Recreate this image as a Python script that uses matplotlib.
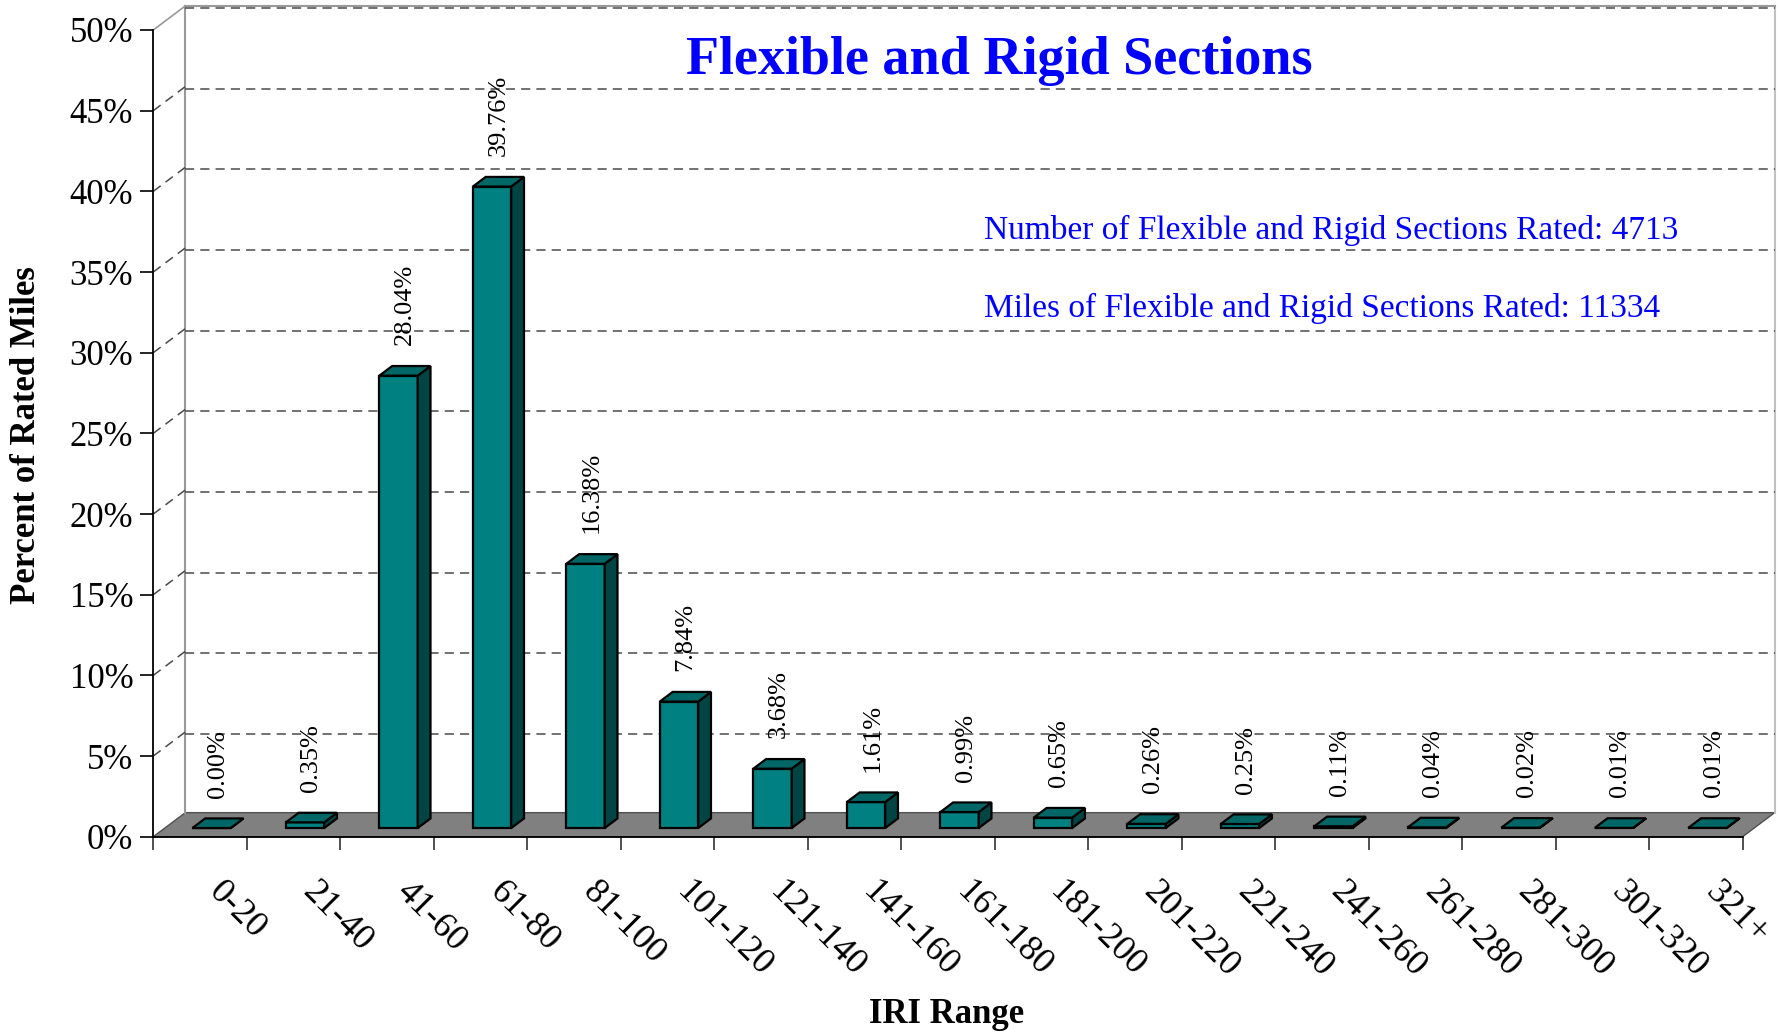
import numpy as np
from matplotlib import pyplot as plt
from matplotlib.patches import Polygon

plt.rcParams['font.family'] = ['Liberation Serif', 'DejaVu Serif']

# IRI ranges and percent of rated miles
categorias = ['0-20', '21-40', '41-60', '61-80', '81-100', '101-120', '121-140',
              '141-160', '161-180', '181-200', '201-220', '221-240', '241-260',
              '261-280', '281-300', '301-320', '321+']
porcentajes = [0.00, 0.35, 28.04, 39.76, 16.38, 7.84, 3.68, 1.61, 0.99, 0.65,
               0.26, 0.25, 0.11, 0.04, 0.02, 0.01, 0.01]
yticks = np.arange(0, 51, 5)

titulo = 'Flexible and Rigid Sections'
nota1 = 'Number of Flexible and Rigid Sections Rated: 4713'
nota2 = 'Miles of Flexible and Rigid Sections Rated: 11334'

# profundidad del "3D" en unidades de datos
DX = 0.342
DY = 1.49
D0, D1 = 0.36, 0.76   # frente y fondo de las barras (fraccion de la profundidad)
ANCHO = 0.41

n = len(categorias)
YMAX = 50

fig = plt.figure(figsize=(17.82, 10.32), dpi=100)
ax = fig.add_axes([0.08603, 0.18924, 0.8919, 0.7817])
ax.set_xlim(0, n)
ax.set_ylim(0, YMAX)
ax.patch.set_visible(False)

gris = '#808080'
# piso
ax.add_patch(Polygon([(0, 0), (n, 0), (n + DX, DY), (DX, DY)], closed=True,
                     facecolor=gris, edgecolor='#505050', lw=1, zorder=1, clip_on=False))
# pared del fondo
ax.plot([DX, DX], [DY, YMAX + DY], color='#999999', lw=1.5, clip_on=False, zorder=1)
ax.plot([n + DX, n + DX], [DY, YMAX + DY], color='#c0c0c0', lw=1.5, clip_on=False, zorder=1)
ax.plot([DX, n + DX], [YMAX + DY, YMAX + DY], color='#999999', lw=1.5, clip_on=False, zorder=1)
ax.plot([0, DX], [YMAX, YMAX + DY], color='#999999', lw=1.2, clip_on=False, zorder=1)
for v in yticks[1:]:
    ax.plot([DX, n + DX], [v + DY - 0.12, v + DY - 0.12], color='#4a4a4a', lw=1.1,
            ls=(0, (6, 4)), clip_on=False, zorder=1)
    if v < YMAX:
        ax.plot([0, DX], [v, v + DY], color='#4a4a4a', lw=1.1, ls=(0, (6, 4)),
                clip_on=False, zorder=1)

# barras
bdx = (D1 - D0) * DX
bdy = (D1 - D0) * DY
for i, v in enumerate(porcentajes):
    x0 = i + 0.5 - ANCHO / 2 + D0 * DX
    y0 = D0 * DY
    frente = [(x0, y0), (x0 + ANCHO, y0), (x0 + ANCHO, y0 + v), (x0, y0 + v)]
    lado = [(x0 + ANCHO, y0), (x0 + ANCHO + bdx, y0 + bdy),
            (x0 + ANCHO + bdx, y0 + v + bdy), (x0 + ANCHO, y0 + v)]
    tapa = [(x0, y0 + v), (x0 + ANCHO, y0 + v), (x0 + ANCHO + bdx, y0 + v + bdy),
            (x0 + bdx, y0 + v + bdy)]
    for pts, c in [(frente, '#008080'), (lado, '#004444'), (tapa, '#006666')]:
        ax.add_patch(Polygon(pts, closed=True, facecolor=c, edgecolor='black',
                             lw=1.6, joinstyle='miter', zorder=3, clip_on=False))
    ax.annotate('%.2f%%' % v, xy=(x0 + ANCHO / 2 + bdx / 2, y0 + v + bdy),
                xytext=(0, 15), textcoords='offset points', rotation=90,
                ha='center', va='bottom', fontsize=19, zorder=4)

# ejes
for s in ['top', 'right']:
    ax.spines[s].set_visible(False)
ax.spines['left'].set_linewidth(1.3)
ax.spines['bottom'].set_linewidth(1.3)
ax.spines['bottom'].set_zorder(2)
ax.set_yticks(yticks)
ax.set_yticklabels(['%d%%' % t for t in yticks], fontsize=25)
ax.tick_params(axis='y', length=9.4, width=1.2, pad=5)
ax.set_xticks(np.arange(0, n + 1))
ax.set_xticklabels([])
ax.tick_params(axis='x', length=9.4, width=1.2, color='#333333')
for i, c in enumerate(categorias):
    ax.annotate(c, xy=(i + 0.5, 0), xytext=(10, -36), textcoords='offset points',
                rotation=-45, rotation_mode='anchor', ha='left', va='center',
                fontsize=26, annotation_clip=False)

fig.text(0.5606, 0.9405, titulo, color='#0000ff', fontsize=39, fontweight='bold',
         ha='center', va='center')
fig.text(0.5522, 0.7684, nota1, color='#0000ff', fontsize=24, ha='left', va='baseline')
fig.text(0.5522, 0.6928, nota2, color='#0000ff', fontsize=24, ha='left', va='baseline')
fig.text(0.01515, 0.5785, 'Percent of Rated Miles', fontsize=25, fontweight='bold',
         rotation=90, ha='center', va='center')
fig.text(0.5314, 0.0087, 'IRI Range', fontsize=25, fontweight='bold',
         ha='center', va='baseline')

plt.savefig('out.png', dpi=100)
